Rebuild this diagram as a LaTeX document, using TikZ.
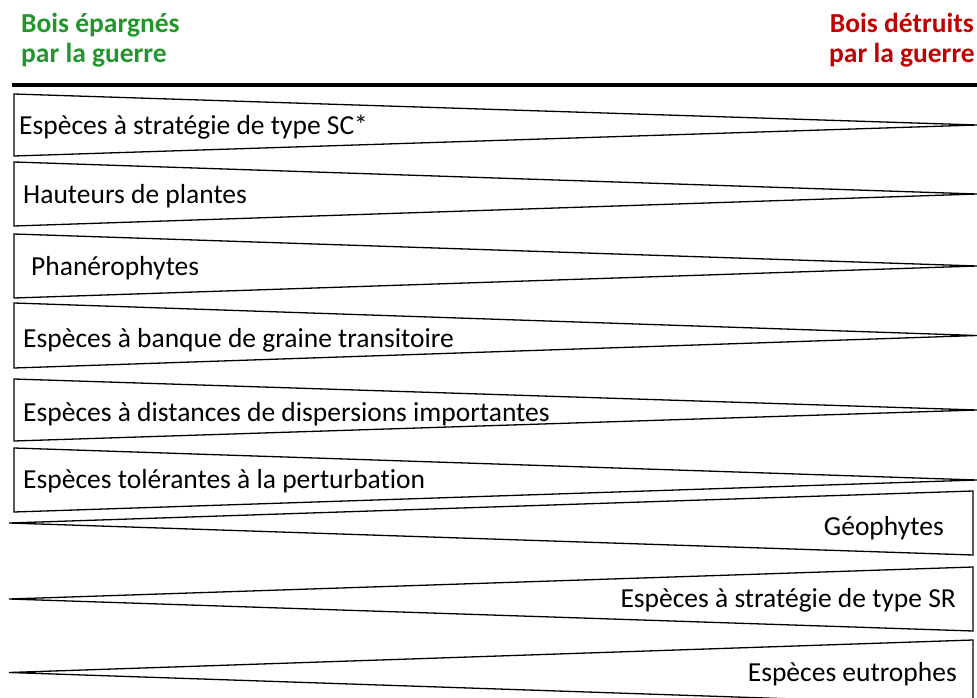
\documentclass[tikz,border=0pt]{standalone}
\usepackage{fontspec}
\setmainfont{Carlito}[Ligatures=NoCommon]
\definecolor{vertbois}{RGB}{34,150,44}
\definecolor{rougebois}{RGB}{192,0,0}

\begin{document}
\begin{tikzpicture}[x=1pt,y=-1pt]
		\tikzset{wedge/.style={draw=black,line width=1.3pt,line join=miter}}
		\tikzset{trait/.style={font=\fontsize{27.5}{32}\selectfont,inner sep=0pt}}
		\tikzset{entete/.style={font=\fontsize{27.5}{32}\selectfont\bfseries,inner sep=0pt}}
		\useasboundingbox (0,0) rectangle (977,698);
		\clip (0,0) rectangle (977,698);
		% en-tetes
		\node[entete,text=vertbois,anchor=base west] (epargnes) at (21,33) {Bois épargnés};
		\node[entete,text=vertbois,anchor=base west] (epargnes2) at (21,63) {par la guerre};
		\node[entete,text=rougebois,anchor=base east] (detruits) at (974,33) {Bois détruits};
		\node[entete,text=rougebois,anchor=base east] (detruits2) at (975,63) {par la guerre};
		\draw[line width=4.5pt] (12,85) -- (977,85);
		% traits favorises par les bois epargnes
		\foreach \t/\b/\y/\x/\lab [count=\i] in {
				94/156/135/19/{Espèces à stratégie de type SC*},
				162/226/203/23/{Hauteurs de plantes},
				234/298/275/31/{Phanérophytes},
				303/368/347/23/{Espèces à banque de graine transitoire},
				379/441/421/23/{Espèces à distances de dispersions importantes},
				448/512/488/23/{Espèces tolérantes à la perturbation}}{
			\draw[wedge] (14,\t) -- (977,{(\t+\b)/2}) -- (14,\b) -- cycle;
			\node[trait,anchor=base west] (e\i) at (\x,\y) {\lab};
		}
		% traits favorises par les bois detruits
		\foreach \t/\b/\y/\x/\lab [count=\i] in {
				491/555/535/944/{Géophytes},
				567/631/607/956/{Espèces à stratégie de type SR},
				640/705/681/957/{Espèces eutrophes}}{
			\draw[wedge] (973,\t) -- (9,{(\t+\b)/2}) -- (973,\b) -- cycle;
			\node[trait,anchor=base east] (d\i) at (\x,\y) {\lab};
		}
	\end{tikzpicture}
\end{document}
